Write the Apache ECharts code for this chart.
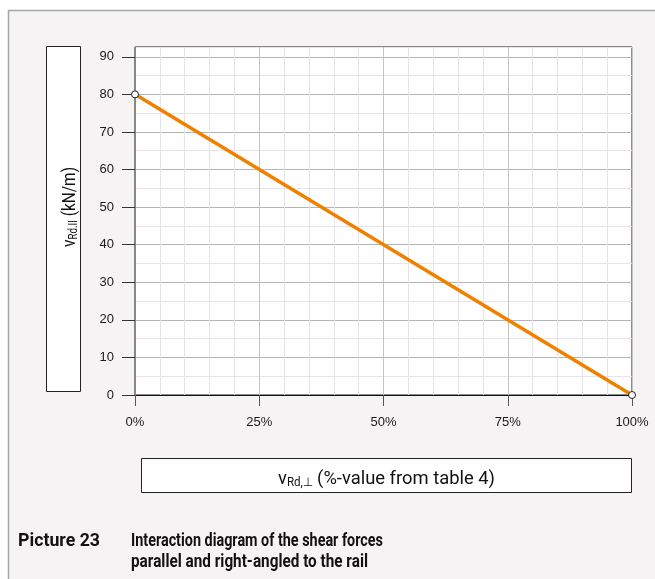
<!DOCTYPE html>
<html>
<head>
<meta charset="utf-8">
<script src="https://cdn.jsdelivr.net/npm/echarts@6/dist/echarts.min.js"></script>
<style>
html,body{margin:0;padding:0;background:#fff;}
#chart{width:655px;height:579px;}
</style>
</head>
<body>
<div id="chart"></div>
<script>
// ---- data ----
const linePoints = [[0, 80], [100, 0]];          // [v_Rd,⊥ %, v_Rd,II kN/m]
const xTicks = [0, 25, 50, 75, 100];
const yTicks = [0, 10, 20, 30, 40, 50, 60, 70, 80, 90];
const xAxisTitle = '(%-value from table 4)';
const yAxisTitle = '(kN/m)';
const captionLabel = 'Picture 23';
const captionLines = ['Interaction diagram of the shear forces', 'parallel and right-angled to the rail'];

const FONT = 'Roboto, "Open Sans", sans-serif';
const MAJ = '#b4b4b8', MIN = '#e6e4e8', XMAJ = '#c4c4c8';

// measure helper to condense text horizontally to a target width
const mctx = document.createElement('canvas').getContext('2d');
function tw(str, size, weight) {
  mctx.font = (weight || 'normal') + ' ' + size + 'px ' + FONT;
  return mctx.measureText(str).width;
}

const capSize = 18;
const capW0 = tw(captionLabel, capSize, 'bold');
const capW1 = tw(captionLines[0], capSize, 'bold');
const capW2 = tw(captionLines[1], capSize, 'bold');

const tSize = 19, sSize = 12;
const xTitleW = tw('v', tSize) + tw('Rd,⊥', sSize) + tw(' ' + xAxisTitle, tSize);
const yTitleW = tw('v', tSize) + tw('Rd.II', sSize) + tw(' ' + yAxisTitle, tSize);

function titleRich() {
  return {
    v: {fontFamily: FONT, fontSize: tSize, fill: '#111', lineHeight: 22},
    s: {fontFamily: FONT, fontSize: sSize, fill: '#111', padding: [7, 0, 0, 0], lineHeight: 22},
    t: {fontFamily: FONT, fontSize: tSize, fill: '#111', lineHeight: 22}
  };
}

const chart = echarts.init(document.getElementById('chart'), null, {renderer: 'canvas'});
chart.setOption({
  animation: false,
  backgroundColor: '#ffffff',
  grid: {left: 135, top: 47, right: 23, bottom: 184, show: true, backgroundColor: '#ffffff', borderColor: '#1a1a1a', borderWidth: 1},
  xAxis: [
    {type: 'value', min: 0, max: 100, interval: 5, position: 'bottom',
     axisLine: {show: true, onZero: false, lineStyle: {color: '#111', width: 1}},
     axisTick: {show: false}, axisLabel: {show: false},
     splitLine: {show: true, lineStyle: {color: [XMAJ, MIN, MIN, MIN, MIN], width: 1}}},
    {type: 'value', min: 0, max: 100, interval: 25, position: 'bottom', offset: 5,
     axisLine: {show: false},
     axisTick: {show: true, length: 11, customValues: xTicks, lineStyle: {color: '#555', width: 1}},
     axisLabel: {show: true, customValues: xTicks, margin: 16, formatter: '{value}%', color: '#1a1a1a', fontSize: 13, fontFamily: 'Liberation Sans, Arial, sans-serif'},
     splitLine: {show: false}}
  ],
  yAxis: [
    {type: 'value', min: 0, max: 92.6, interval: 5, position: 'left',
     axisLine: {show: true, onZero: false, lineStyle: {color: '#888', width: 1}},
     axisTick: {show: false}, axisLabel: {show: false},
     splitLine: {show: true, lineStyle: {color: [MAJ, MIN], width: 1}}},
    {type: 'value', min: 0, max: 92.6, interval: 10, position: 'left', offset: 5,
     axisLine: {show: false},
     axisTick: {show: true, length: 13, customValues: yTicks, lineStyle: {color: '#333', width: 1}},
     axisLabel: {show: true, customValues: yTicks, margin: 16, color: '#1a1a1a', fontSize: 13, fontFamily: 'Liberation Sans, Arial, sans-serif'},
     splitLine: {show: false}}
  ],
  series: [{
    type: 'line', xAxisIndex: 0, yAxisIndex: 0, data: linePoints,
    clip: false, z: 5,
    lineStyle: {color: '#f08000', width: 3.5},
    symbol: 'circle', symbolSize: 7, showSymbol: true,
    itemStyle: {color: '#ffffff', borderColor: '#222', borderWidth: 1}
  }],
  graphic: [
    {type: 'rect', z: -20, silent: true, shape: {x: 8, y: 10, width: 660, height: 580}, style: {fill: '#f5f3f4', stroke: null}},
    {type: 'line', z: -19, silent: true, shape: {x1: 8, y1: 10.5, x2: 655, y2: 10.5}, style: {stroke: '#a6a6a6', lineWidth: 1.5}},
    {type: 'line', z: -19, silent: true, shape: {x1: 8.5, y1: 10, x2: 8.5, y2: 579}, style: {stroke: '#a6a6a6', lineWidth: 1.5}},
    // y-axis title box
    {type: 'rect', z: 2, silent: true, shape: {x: 46.5, y: 46.5, width: 34, height: 345}, style: {fill: '#fff', stroke: '#222', lineWidth: 1}},
    {type: 'text', z: 3, silent: true, x: 70, y: 207, rotation: Math.PI / 2, scaleX: 80 / yTitleW,
     style: {text: '{v|v}{s|Rd.II}{t| ' + yAxisTitle + '}', align: 'center', verticalAlign: 'middle', rich: titleRich()}},
    // x-axis title box
    {type: 'rect', z: 2, silent: true, shape: {x: 141.5, y: 458.5, width: 490, height: 34}, style: {fill: '#fff', stroke: '#222', lineWidth: 1}},
    {type: 'text', z: 3, silent: true, x: 386.5, y: 479, scaleX: 217 / xTitleW,
     style: {text: '{v|v}{s|Rd,⊥}{t| ' + xAxisTitle + '}', align: 'center', verticalAlign: 'middle', rich: titleRich()}},
    // caption
    {type: 'text', z: 3, silent: true, x: 18, y: 541, scaleX: 82 / capW0,
     style: {text: captionLabel, verticalAlign: 'middle', fontFamily: FONT, fontWeight: 'bold', fontSize: capSize, fill: '#111'}},
    {type: 'text', z: 3, silent: true, x: 131, y: 541, scaleX: 252 / capW1,
     style: {text: captionLines[0], verticalAlign: 'middle', fontFamily: FONT, fontWeight: 'bold', fontSize: capSize, fill: '#111'}},
    {type: 'text', z: 3, silent: true, x: 131, y: 562, scaleX: 237 / capW2,
     style: {text: captionLines[1], verticalAlign: 'middle', fontFamily: FONT, fontWeight: 'bold', fontSize: capSize, fill: '#111'}}
  ]
});
</script>
</body>
</html>
